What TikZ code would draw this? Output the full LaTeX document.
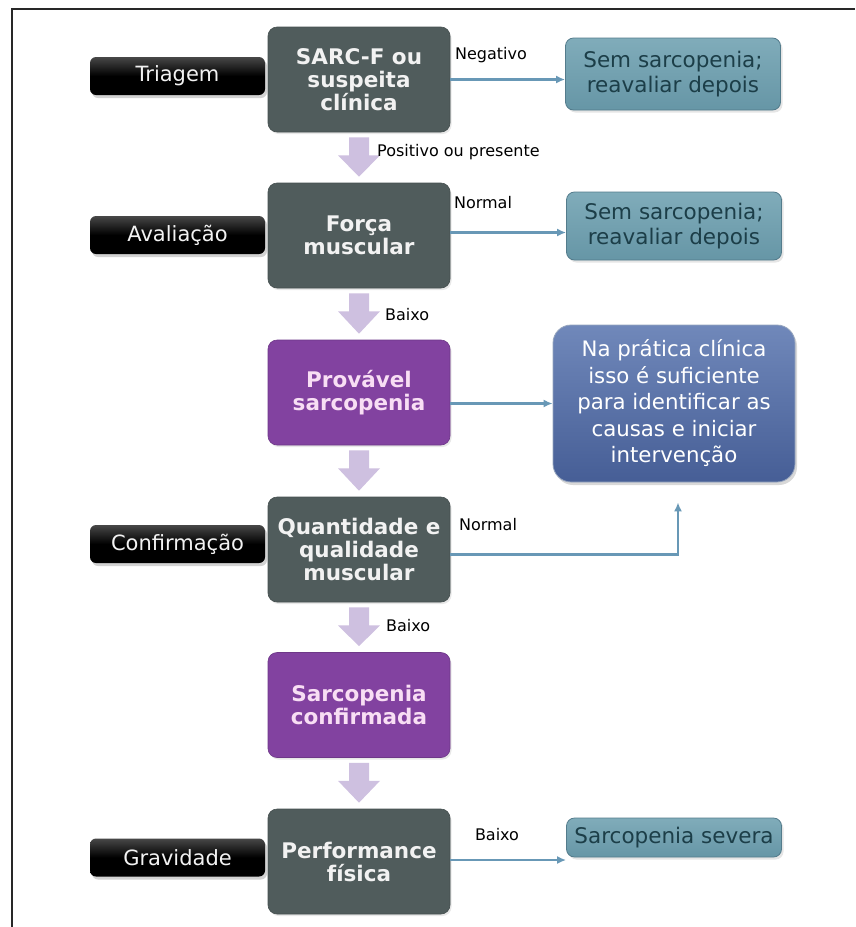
\documentclass[tikz,border=0pt]{standalone}
\usepackage{fontspec}
\setmainfont{DejaVu Sans}
\usetikzlibrary{shadows,arrows.meta,calc}
\definecolor{mainbox}{RGB}{80,92,92}
\definecolor{mainedge}{RGB}{70,80,80}
\definecolor{purplebox}{RGB}{130,66,160}
\definecolor{purpletext}{RGB}{248,222,244}
\definecolor{tealtop}{RGB}{128,172,186}
\definecolor{tealbot}{RGB}{102,150,166}
\definecolor{tealedge}{RGB}{84,124,140}
\definecolor{tealtext}{RGB}{28,62,72}
\definecolor{bluetop}{RGB}{112,136,186}
\definecolor{bluebot}{RGB}{70,94,150}
\definecolor{blueedge}{RGB}{150,165,190}
\definecolor{lav}{RGB}{206,192,224}
\definecolor{conncol}{RGB}{104,152,182}
\definecolor{framecol}{RGB}{40,40,40}
\definecolor{boxtext}{RGB}{242,242,242}
\tikzset{
  mainstyle/.style={rectangle, rounded corners=9pt, minimum width=182pt, minimum height=105pt,
    inner sep=0pt, align=center, font=\fontsize{21.5}{23}\selectfont\bfseries},
  darkbox/.style={mainstyle, fill=mainbox, draw=mainedge, line width=0.6pt, text=boxtext,
    drop shadow={opacity=0.18, shadow xshift=1.5pt, shadow yshift=-2pt}},
  purplestyle/.style={mainstyle, fill=purplebox, draw=purplebox!85!black, line width=0.6pt, text=purpletext,
    drop shadow={opacity=0.18, shadow xshift=1.5pt, shadow yshift=-2pt}},
  stagelabel/.style={rectangle, rounded corners=6pt, minimum width=175pt, minimum height=38pt,
    inner sep=0pt, top color=black!72, bottom color=black, middle color=black, text=boxtext,
    font=\fontsize{21}{24}\selectfont,
    drop shadow={opacity=0.35, shadow xshift=2pt, shadow yshift=-3pt}},
  tealbox/.style={rectangle, rounded corners=8pt, minimum width=215pt, inner sep=0pt,
    top color=tealtop, bottom color=tealbot, draw=tealedge, line width=0.8pt, text=tealtext,
    align=center, font=\fontsize{21.5}{25}\selectfont,
    drop shadow={opacity=0.2, shadow xshift=2pt, shadow yshift=-2.5pt}},
  bluebox/.style={rectangle, rounded corners=18pt, minimum width=242pt, minimum height=157pt,
    inner sep=0pt, top color=bluetop, bottom color=bluebot, draw=blueedge, line width=0.8pt,
    text=white, align=center, font=\fontsize{21.3}{26.5}\selectfont,
    drop shadow={opacity=0.3, shadow xshift=2pt, shadow yshift=-3pt}},
  conn/.style={draw=conncol, line width=2.8pt, -{Latex[length=9pt,width=8pt]}},
  smalllabel/.style={font=\fontsize{16}{18}\selectfont, text=black, inner sep=0pt},
}
\newcommand{\blkarrow}[2]{%
  \fill[lav] ($(#1.south)+(-10,5)$) -- ($(#1.south)+(10,5)$) -- ($(#1.south)+(10,23)$)
    -- ($(#1.south)+(21,23)$) -- ($(#2.north)+(0,-6)$) -- ($(#1.south)+(-21,23)$)
    -- ($(#1.south)+(-10,23)$) -- cycle;}
\begin{document}
\begin{tikzpicture}[x=1pt,y=-1pt]
\useasboundingbox (0,0) rectangle (855,927);
\fill[white] (0,0) rectangle (855,927);
\draw[framecol, line width=2.2pt] (12,927) -- (12,9) -- (855,9);

% stage labels
\node[stagelabel] (lt) at (177.5,76) {Triagem};
\node[stagelabel] (la) at (177.5,235) {Avaliação};
\node[stagelabel] (lc) at (177.5,544) {Confirmação};
\node[stagelabel] (lg) at (177.5,857.5) {Gravidade};

% main column
\node[darkbox] (A) at (359,79.5) {SARC-F ou\\suspeita\\clínica};
\node[darkbox] (B) at (359,235.5) {Força\\muscular};
\node[purplestyle] (C) at (359,392.5) {Provável\\sarcopenia};
\node[darkbox] (D) at (359,549.5) {Quantidade e\\qualidade\\muscular};
\node[purplestyle] (E) at (359,705) {Sarcopenia\\confirmada};
\node[darkbox] (F) at (359,861.5) {Performance\\física};

% right column
\node[tealbox, minimum height=72pt] (T1) at (673,74) {Sem sarcopenia;\\reavaliar depois};
\node[tealbox, minimum height=68pt] (T2) at (674,226) {Sem sarcopenia;\\reavaliar depois};
\node[bluebox] (G) at (674,403.5) {Na prática clínica\\isso é suficiente\\para identificar as\\causas e iniciar\\intervenção};
\node[tealbox, minimum height=39pt] (T3) at (674,837.5) {Sarcopenia severa};

% block arrows
\blkarrow{A}{B}
\blkarrow{B}{C}
\blkarrow{C}{D}
\blkarrow{D}{E}
\blkarrow{E}{F}

% arrow labels
\node[smalllabel, anchor=west] (lpos) at ($(A.south)!0.5!(B.north)+(18,-5)$) {Positivo ou presente};
\node[smalllabel, anchor=west] (lb1) at ($(B.south)!0.5!(C.north)+(26,1)$) {Baixo};
\node[smalllabel, anchor=west] (lb2) at ($(D.south)!0.5!(E.north)+(27,-2)$) {Baixo};

% connectors
\draw[conn] (A.east) -- (A.east -| T1.west);
\node[smalllabel] (lneg) at (491,55) {Negativo};
\draw[conn] ($(B.east)+(0,-3)$) -- ($(B.east -| T2.west)+(0,-3)$);
\node[smalllabel] (lnor1) at (483,203) {Normal};
\draw[conn] (C.east |- G.west) -- (G.west);
\coordinate (dtip) at ($(G.south)+(4,20)$);
\draw[conn] ($(D.east)+(0,5)$) -| (dtip);
\node[smalllabel] (lnor2) at (488,525) {Normal};
\draw[conn] ($(F.east)+(0,-1.5)$) -- ($(F.east -| T3.west)+(0,-1.5)$);
\node[smalllabel] (lb3) at (497,835) {Baixo};
\end{tikzpicture}
\end{document}
